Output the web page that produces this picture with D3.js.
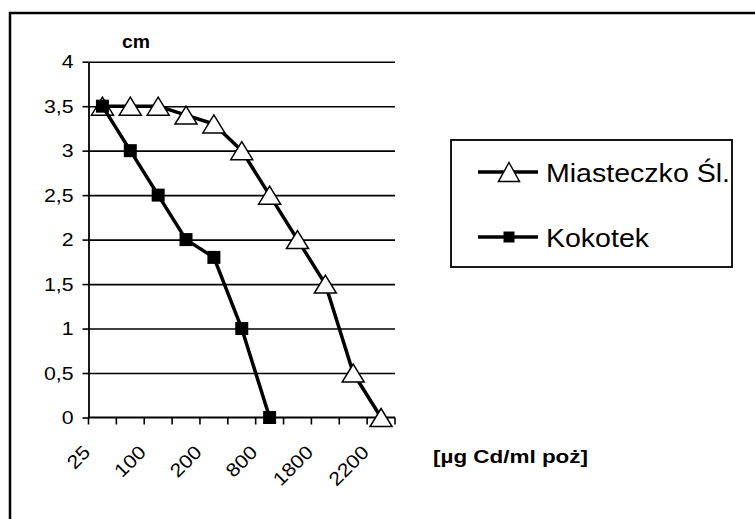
<!DOCTYPE html>
<html>
<head>
<meta charset="utf-8">
<script src="https://cdn.jsdelivr.net/npm/d3@7"></script>
<style>
  html, body { margin: 0; padding: 0; background: #fff; }
  svg { display: block; font-family: "Liberation Sans", Arial, sans-serif; }
</style>
</head>
<body>
<svg id="chart" width="755" height="519"></svg>
<script>
// Cadmium concentration steps (only every other step carries a label on the axis)
const categories = [0, 1, 2, 3, 4, 5, 6, 7, 8, 9, 10];
const xTickLabels = ["25", "", "100", "", "200", "", "800", "", "1800", "", "2200"];

// Growth in cm for the two sites
const miasteczko = [3.5, 3.5, 3.5, 3.4, 3.3, 3.0, 2.5, 2.0, 1.5, 0.5, 0];
const kokotek = [3.5, 3.0, 2.5, 2.0, 1.8, 1.0, 0];

const yTicks = [0, 0.5, 1, 1.5, 2, 2.5, 3, 3.5, 4];
const seriesNames = ["Miasteczko Śl.", "Kokotek"];

const svg = d3.select("#chart");

// widen glyphs horizontally by factor k
function stretch(sel, k) {
  sel.each(function () {
    const w = this.getComputedTextLength();
    d3.select(this).attr("textLength", w * k).attr("lengthAdjust", "spacingAndGlyphs");
  });
}

// outer frame
svg.append("rect")
  .attr("x", 10).attr("y", 13)
  .attr("width", 780).attr("height", 540)
  .attr("fill", "none").attr("stroke", "#000").attr("stroke-width", 2.5);

const plot = { left: 88.5, right: 395, top: 61.7, bottom: 417.5 };

const x = d3.scaleBand().domain(categories).range([plot.left, plot.right]).padding(0);
const y = d3.scaleLinear().domain([0, 4]).range([plot.bottom, plot.top]);
const cx = i => x(i) + x.bandwidth() / 2;

// horizontal gridlines
const grid = svg.append("g").attr("transform", `translate(${plot.left},0)`)
  .call(d3.axisLeft(y).tickValues(yTicks.filter(v => v > 0))
    .tickSize(-(plot.right - plot.left)).tickFormat(""));
grid.select(".domain").remove();
grid.selectAll("line").attr("stroke", "#000").attr("stroke-width", 1.6);

// y axis
const yAxis = svg.append("g").attr("transform", `translate(${plot.left},0)`)
  .call(d3.axisLeft(y).tickValues(yTicks).tickSizeInner(6).tickSizeOuter(0).tickPadding(9)
    .tickFormat(v => String(v).replace(".", ",")));
yAxis.select(".domain").attr("stroke", "#000").attr("stroke-width", 1.8);
yAxis.selectAll("line").attr("stroke", "#000").attr("stroke-width", 1.6);
yAxis.selectAll("text").attr("font-size", 19).attr("fill", "#000")
  .attr("font-family", "Liberation Sans, Arial, sans-serif")
  .call(stretch, 1.12);

// x axis: line and ticks at category boundaries
const xAxisG = svg.append("g").attr("transform", `translate(0,${plot.bottom})`);
xAxisG.append("line")
  .attr("x1", plot.left).attr("x2", plot.right)
  .attr("stroke", "#000").attr("stroke-width", 2);
const boundaries = categories.map(c => x(c)).concat([plot.right]);
xAxisG.selectAll("line.tick").data(boundaries).join("line")
  .attr("class", "tick")
  .attr("x1", d => d).attr("x2", d => d)
  .attr("y1", 0).attr("y2", 7)
  .attr("stroke", "#000").attr("stroke-width", 1.6);

// rotated category labels
svg.append("g").selectAll("text")
  .data(categories.filter(c => xTickLabels[c] !== ""))
  .join("text")
  .attr("transform", c => `translate(${cx(c) - 11},${plot.bottom + 36}) rotate(-45)`)
  .attr("text-anchor", "end")
  .attr("font-size", 19)
  .text(c => xTickLabels[c])
  .call(stretch, 1.12);

// axis titles
svg.append("text").attr("x", 122).attr("y", 48)
  .attr("font-size", 18).attr("font-weight", "bold").text("cm")
  .attr("textLength", 28).attr("lengthAdjust", "spacingAndGlyphs");
svg.append("text").attr("x", 433).attr("y", 463)
  .attr("font-size", 18).attr("font-weight", "bold").text("[µg Cd/ml poż]")
  .attr("textLength", 155).attr("lengthAdjust", "spacingAndGlyphs");

// markers
const triPath = (w, h) => `M0,${-h / 2}L${w / 2},${h / 2}L${-w / 2},${h / 2}Z`;
const sqPath = s => `M${-s / 2},${-s / 2}h${s}v${s}h${-s}Z`;

const line = d3.line().x((d, i) => cx(categories[i])).y(d => y(d));

// Miasteczko Śl. series
svg.append("path").datum(miasteczko)
  .attr("d", line).attr("fill", "none").attr("stroke", "#000").attr("stroke-width", 3.5)
  .attr("stroke-linejoin", "round");
svg.append("g").selectAll("path").data(miasteczko).join("path")
  .attr("transform", (d, i) => `translate(${cx(categories[i])},${y(d)})`)
  .attr("d", triPath(22, 18))
  .attr("fill", "#fff").attr("stroke", "#000").attr("stroke-width", 1.5);

// Kokotek series
svg.append("path").datum(kokotek)
  .attr("d", line).attr("fill", "none").attr("stroke", "#000").attr("stroke-width", 3.5)
  .attr("stroke-linejoin", "round");
svg.append("g").selectAll("path").data(kokotek).join("path")
  .attr("transform", (d, i) => `translate(${cx(categories[i])},${y(d)})`)
  .attr("d", sqPath(13))
  .attr("fill", "#000");

// legend
const lg = svg.append("g");
lg.append("rect").attr("x", 451).attr("y", 140).attr("width", 281).attr("height", 127)
  .attr("fill", "#fff").attr("stroke", "#000").attr("stroke-width", 1.8);
const legendRows = [
  { name: seriesNames[0], y: 172, marker: "tri", width: 184 },
  { name: seriesNames[1], y: 237, marker: "sq", width: 103 }
];
legendRows.forEach(r => {
  lg.append("line").attr("x1", 478).attr("x2", 538).attr("y1", r.y).attr("y2", r.y)
    .attr("stroke", "#000").attr("stroke-width", 3.5);
  lg.append("path")
    .attr("transform", `translate(509,${r.y})`)
    .attr("d", r.marker === "tri" ? triPath(21, 19) : sqPath(11))
    .attr("fill", r.marker === "tri" ? "#fff" : "#000")
    .attr("stroke", "#000").attr("stroke-width", r.marker === "tri" ? 1.5 : 0);
  lg.append("text").attr("x", 546).attr("y", r.y + 10)
    .attr("font-size", 26).attr("textLength", r.width)
    .attr("lengthAdjust", "spacingAndGlyphs")
    .text(r.name);
});
</script>
</body>
</html>
